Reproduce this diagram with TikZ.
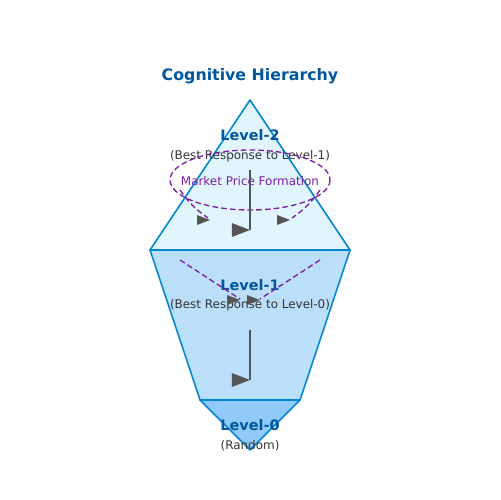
\documentclass[tikz,border=0pt]{standalone}
\usepackage{fontspec}
\setmainfont{DejaVu Sans}
\definecolor{levelblue}{HTML}{01579B}
\definecolor{edgeblue}{HTML}{0288D1}
\definecolor{fillA}{HTML}{E1F5FE}
\definecolor{fillB}{HTML}{BBDEFB}
\definecolor{fillC}{HTML}{90CAF9}
\definecolor{textgray}{HTML}{333333}
\definecolor{arrowgray}{HTML}{555555}
\definecolor{marketpurple}{HTML}{7B1FA2}
\tikzset{
  levelname/.style={font=\bfseries\fontsize{8.2}{10}\selectfont, text=levelblue, inner sep=0pt},
  levelnote/.style={font=\fontsize{6.8}{8}\selectfont, text=textgray, inner sep=0pt},
  layer/.style={draw=edgeblue, line width=0.9pt, line join=round},
  flow/.style={draw=arrowgray, line width=0.9pt},
  market/.style={draw=marketpurple, dash pattern=on 3.2pt off 1.8pt, line width=0.75pt}
}
\begin{document}
\begin{tikzpicture}[x=0.02cm,y=-0.02cm]
\useasboundingbox (0,0) rectangle (500,500);

% layers of the hierarchy
\filldraw[layer, fill=fillC] (200,400) -- (300,400) -- (250,450) -- cycle;
\filldraw[layer, fill=fillB] (150,250) -- (350,250) -- (300,400) -- (200,400) -- cycle;
\filldraw[layer, fill=fillA] (250,100) -- (350,250) -- (150,250) -- cycle;

\node[font=\bfseries\fontsize{9}{11}\selectfont, text=levelblue] (title) at (250,76) {Cognitive Hierarchy};

\node[levelname] (lvltwo) at (250,135) {Level-2};
\node[levelnote] (lvltwonote) at (250,156) {(Best Response to Level-1)};
\node[levelname] (lvlone) at (250,285) {Level-1};
\node[levelnote] (lvlonenote) at (250,305) {(Best Response to Level-0)};
\node[levelname] (lvlzero) at (250,425) {Level-0};
\node[levelnote] (lvlzeronote) at (250,446) {(Random)};

% market
\draw[market] (250,180) ellipse (80 and 30);
\node[levelnote, text=marketpurple] (mkt) at (250,181) {Market Price Formation};

\coordinate (mktl) at (180,190);
\coordinate (mktr) at (320,190);
\coordinate (mktlend) at (208,218);
\coordinate (mktrend) at (292,218);
\coordinate (onel) at (180,260);
\coordinate (oner) at (320,260);
\coordinate (onelend) at (240,299);
\coordinate (onerend) at (260,299);
\coordinate (twotop) at (250,170);
\coordinate (twobot) at (250,230);
\coordinate (onetop) at (250,330);
\coordinate (onebot) at (250,380);

\draw[market] (mktl) to[bend right=10] (mktlend);
\draw[market] (mktr) to[bend left=10] (mktrend);
\draw[market] (onel) -- (onelend);
\draw[market] (oner) -- (onerend);

\draw[flow] (twotop) -- (twobot);
\draw[flow] (onetop) -- (onebot);

\foreach \x/\y/\s in {250/230/7, 250/380/7, 210/220/5, 290/220/5, 240/300/5, 260/300/5}
\fill[arrowgray] (\x,\y) -- ++(-2.6*\s,-\s) -- ++(0,2*\s) -- cycle;
\end{tikzpicture}
\end{document}
